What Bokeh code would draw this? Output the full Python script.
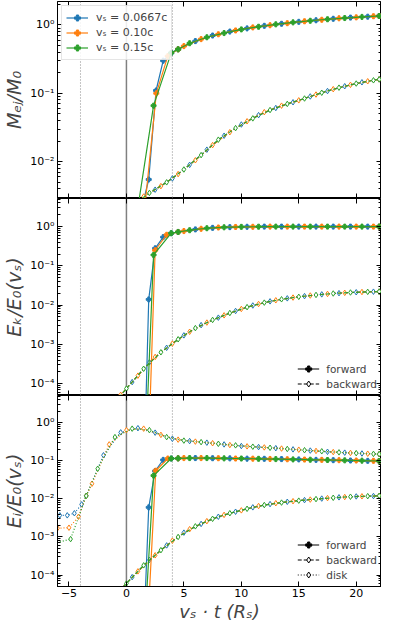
from bokeh.plotting import figure
from bokeh.layouts import column
from bokeh.models import (Range1d, FixedTicker, LogAxis, LinearAxis, Span, Legend,
                          LegendItem, CustomJSTickFormatter)
from bokeh.embed import file_html
from bokeh.resources import INLINE

# ---------------- data ----------------
COLORS = ["#1f77b4", "#ff7f0e", "#2ca02c"]
SERIES_LABELS = ["vₛ = 0.0667c", "vₛ = 0.10c", "vₛ = 0.15c"]
X_TICKS = [-5, 0, 5, 10, 15, 20]
X_LIMITS = (-6, 22.2)

X_TAIL = [4.5, 5.0, 5.5, 6.0, 6.5, 7.0, 7.5, 8.0, 8.5, 9.0, 9.5, 10.0, 10.5, 11.0,
          11.5, 12.0, 12.5, 13.0, 13.5, 14.0, 14.5, 15.0, 15.5, 16.0, 16.5, 17.0,
          17.5, 18.0, 18.5, 19.0, 19.5, 20.0, 20.5, 21.0, 21.5, 22.0]

# M_ej / M_0 forward: early rise per series, then the common tail
M_FWD_HEAD_X = [[1.2, 1.94, 2.58, 3.2, 3.9], [1.4, 2.6, 3.6], [0.8, 2.36, 3.9]]
M_FWD_HEAD_Y = [[0.0017, 0.0055, 0.11, 0.30, 0.39], [0.001, 0.10, 0.35], [0.0013, 0.066, 0.39]]
M_FWD_TAIL = [0.44, 0.49, 0.54, 0.58, 0.62, 0.66, 0.70, 0.73, 0.76, 0.80, 0.83, 0.86,
              0.89, 0.92, 0.94, 0.97, 0.99, 1.02, 1.04, 1.06, 1.09, 1.11, 1.13, 1.15,
              1.17, 1.19, 1.21, 1.23, 1.25, 1.26, 1.28, 1.29, 1.31, 1.32, 1.34, 1.35]
# M_ej / M_0 backward
M_BWD_X = [1.0, 1.5, 2.0, 2.5, 3.0, 3.5, 4.0] + X_TAIL
M_BWD = [0.0026, 0.0031, 0.0035, 0.0039, 0.0044, 0.0050, 0.0057,
         0.0066, 0.0077, 0.0090, 0.0105, 0.0125, 0.0150, 0.0175, 0.021, 0.024, 0.027,
         0.031, 0.035, 0.039, 0.043, 0.048, 0.053, 0.057, 0.061, 0.066, 0.070,
         0.074, 0.079, 0.084, 0.090, 0.096, 0.102, 0.108, 0.115, 0.121, 0.127,
         0.133, 0.139, 0.145, 0.150, 0.155, 0.160]

# E_k / E_0 forward
EK_FWD_HEAD_X = [[1.62, 1.94, 2.5, 3.2, 3.9], [2.0, 2.5, 3.5], [1.75, 2.36, 3.9]]
EK_FWD_HEAD_Y = [[5e-6, 0.014, 0.28, 0.54, 0.68], [1e-5, 0.25, 0.62], [8.7e-6, 0.19, 0.68]]
EK_FWD_TAIL = [0.73, 0.77, 0.81, 0.85, 0.88, 0.91, 0.93, 0.95, 0.96, 0.97, 0.98, 0.985,
               0.99, 0.99, 0.995, 1.0, 1.0, 1.0, 1.0, 1.0, 1.0, 1.0, 1.0, 1.0, 1.0, 1.0,
               1.0, 1.0, 1.0, 1.0, 1.0, 1.0, 1.0, 1.0, 1.0, 1.0]
# backward (E_k and E_i share this x grid)
BWD_X = [-1.0, -0.5, 0.0, 0.5, 1.0, 1.5, 2.0, 2.5, 3.0, 3.5, 4.0] + X_TAIL
EK_BWD = [3.4e-5, 5.2e-5, 7.5e-5, 1.1e-4, 1.6e-4, 2.4e-4, 3.5e-4, 4.8e-4, 6.3e-4, 8.2e-4, 1.05e-3,
          1.35e-3, 1.7e-3, 2.1e-3, 2.6e-3, 3.1e-3, 3.6e-3, 4.2e-3, 4.8e-3, 5.5e-3, 6.3e-3,
          7.1e-3, 8.0e-3, 8.9e-3, 9.8e-3, 0.0107, 0.0116, 0.0125, 0.0133, 0.0141, 0.0149,
          0.0156, 0.0163, 0.0170, 0.0176, 0.0182, 0.0188, 0.0193, 0.0198, 0.0202, 0.0206,
          0.0210, 0.0213, 0.0216, 0.0218, 0.0220, 0.0221]

# E_i / E_0 forward
EI_FWD_HEAD_X = [[1.6, 1.94, 2.5, 3.2, 3.9], [1.95, 2.55, 3.6], [1.7, 2.36, 3.9]]
EI_FWD_HEAD_Y = [[1.6e-5, 0.006, 0.054, 0.106, 0.115], [1.8e-5, 0.055, 0.115], [1.6e-5, 0.041, 0.115]]
EI_FWD_TAIL = [0.116, 0.118, 0.118, 0.118, 0.118, 0.118, 0.117, 0.117, 0.116, 0.116, 0.115,
               0.115, 0.114, 0.114, 0.113, 0.113, 0.112, 0.111, 0.111, 0.110, 0.109, 0.109,
               0.108, 0.107, 0.106, 0.106, 0.105, 0.104, 0.104, 0.103, 0.102, 0.102, 0.101,
               0.100, 0.100, 0.099]
EI_BWD = [2.9e-5, 4.2e-5, 6e-5, 8.8e-5, 1.25e-4, 1.8e-4, 2.5e-4, 3.3e-4, 4.5e-4, 6e-4, 8e-4,
          1.0e-3, 1.3e-3, 1.6e-3, 1.9e-3, 2.2e-3, 2.6e-3, 3.0e-3, 3.4e-3, 3.8e-3, 4.2e-3,
          4.6e-3, 5.0e-3, 5.5e-3, 6.0e-3, 6.5e-3, 6.9e-3, 7.3e-3, 7.7e-3, 8.0e-3, 8.4e-3,
          8.7e-3, 9.0e-3, 9.3e-3, 9.6e-3, 9.9e-3, 0.0102, 0.0105, 0.0107, 0.0110, 0.0112,
          0.0114, 0.0116, 0.0117, 0.0118, 0.0119, 0.0120]
# E_i disk: per-series start, then common curve
DISK_HEAD_X = [[-5.8, -5.15, -4.53, -3.9], [-6.0, -5.0, -4.17], [-6.3, -4.86]]
DISK_HEAD_Y = [[3.7e-3, 3.7e-3, 4.2e-3, 7.2e-3], [1.7e-3, 1.75e-3, 3.4e-3], [6.8e-4, 8.8e-4]]
DISK_X = [-3.5, -3.0, -2.5, -2.0, -1.5, -1.0, -0.5, 0.0, 0.5, 1.0, 1.5, 2.0, 2.5, 3.0,
          3.5, 4.0] + X_TAIL
DISK = [0.012, 0.025, 0.062, 0.14, 0.27, 0.42, 0.56, 0.64, 0.70, 0.72, 0.70, 0.64, 0.55,
        0.48, 0.42, 0.38,
        0.36, 0.34, 0.33, 0.32, 0.31, 0.30, 0.29, 0.28, 0.27, 0.26,
        0.255, 0.245, 0.24, 0.235, 0.23, 0.225, 0.22, 0.215, 0.21, 0.205,
        0.20, 0.196, 0.19, 0.186, 0.182, 0.178, 0.173, 0.170, 0.167, 0.164,
        0.161, 0.159, 0.156, 0.154, 0.152, 0.150]

# ---------------- styling ----------------
FONT = "DejaVu Sans"
W = 381
LW = 1.2
xr = Range1d(*X_LIMITS)

SUP = """
const m = {"-":"\u207b","0":"\u2070","1":"\u00b9","2":"\u00b2","3":"\u00b3","4":"\u2074",
           "5":"\u2075","6":"\u2076","7":"\u2077","8":"\u2078","9":"\u2079"};
const e = Math.round(Math.log10(tick));
return "10" + String(e).split("").map(c => m[c]).join("");
"""
BLANK = CustomJSTickFormatter(code="return '';")


def pick(n, k):
    return sorted(set([0, n - 1] + list(range(k, n, 3))))


def style_axis(ax, labels):
    ax.major_tick_in = 5
    ax.major_tick_out = 0
    ax.minor_tick_in = 3
    ax.minor_tick_out = 0
    ax.major_tick_line_color = "black"
    ax.minor_tick_line_color = "black"
    ax.axis_line_color = "black"
    if labels:
        ax.major_label_text_font = FONT
        ax.major_label_text_font_size = "11px"
        ax.major_label_text_color = "black"
        ax.major_label_standoff = 3
    else:
        ax.formatter = BLANK
        ax.major_label_text_font_size = "1px"
        ax.major_label_standoff = 0


def make_panel(ylo, yhi, major, height, btop, bbot, ylabel, xlabels):
    p = figure(width=W, height=height, x_range=xr, y_range=Range1d(ylo, yhi),
               y_axis_type="log", output_backend="svg", toolbar_location=None,
               min_border_left=47, min_border_right=0, min_border_top=btop,
               min_border_bottom=bbot)
    p.grid.visible = False
    p.outline_line_color = "black"
    p.outline_line_width = 1
    minor = [m * 10.0 ** e for e in range(-6, 1) for m in range(2, 10)]
    yt = FixedTicker(ticks=major, minor_ticks=minor)
    xt = FixedTicker(ticks=X_TICKS, minor_ticks=[])

    ya = p.yaxis[0]
    ya.ticker = yt
    ya.formatter = CustomJSTickFormatter(code=SUP)
    style_axis(ya, True)
    ya.axis_label = ylabel
    ya.axis_label_text_font = FONT
    ya.axis_label_text_font_size = "19px"
    ya.axis_label_text_font_style = "italic"
    ya.axis_label_standoff = 2

    # right / top tick rows pinned to the frame edge (take no border space)
    ra = LogAxis(ticker=yt, fixed_location=X_LIMITS[1])
    style_axis(ra, False)
    p.add_layout(ra, "right")

    xa = p.xaxis[0]
    xa.ticker = xt
    style_axis(xa, xlabels)
    if xlabels:
        xa.axis_label = "vₛ · t (Rₛ)"
        xa.axis_label_text_font = FONT
        xa.axis_label_text_font_size = "18px"
        xa.axis_label_text_font_style = "italic"
        xa.axis_label_standoff = 1
        xa.major_label_standoff = 2
    else:
        xa.fixed_location = ylo

    ta = LinearAxis(ticker=xt, fixed_location=yhi)
    style_axis(ta, False)
    p.add_layout(ta, "above")

    p.add_layout(Span(location=0, dimension="height", line_color="#808080",
                      line_width=1.5, level="underlay"))
    for loc in (-4, 4):
        p.add_layout(Span(location=loc, dimension="height", line_color="#888888",
                          line_width=1, line_dash="1 2", level="underlay"))
    return p


def draw(p, xs, ys, color, kind):
    if kind == "fwd":
        r1 = p.line(xs, ys, line_color=color, line_width=LW)
        r2 = p.scatter(xs, ys, marker="plus", size=5, fill_color=color, line_color=color)
    else:
        dash = "4 2" if kind == "bwd" else "1 2"
        r1 = p.line(xs, ys, line_color=color, line_width=LW, line_dash=dash)
        r2 = p.scatter(xs, ys, marker="diamond", size=5.5, fill_color="white",
                       line_color=color, line_width=1)
    return [r1, r2]


def series(head_x, head_y, tail_x, tail_y, k):
    idx = pick(len(tail_x), k)
    return head_x + [tail_x[i] for i in idx], head_y + [tail_y[i] for i in idx]


def kind_legend(p, kinds):
    items = []
    names = {"fwd": "forward", "bwd": "backward", "disk": "disk"}
    for kd in kinds:
        # legend proxies placed far outside the visible range
        rs = draw(p, [-100.0], [1.0], "black", kd)
        if kd == "fwd":
            rs[1].glyph.size = 7
        else:
            rs[1].glyph.size = 6.5
        items.append(LegendItem(label=names[kd], renderers=rs))
    lg = Legend(items=items, location="bottom_right", border_line_color=None,
                background_fill_alpha=0, label_text_font=FONT, label_text_font_size="10.5px",
                glyph_width=22, glyph_height=15, label_height=15, spacing=0, padding=4,
                margin=4, label_standoff=7)
    p.add_layout(lg)


# ---- panel 1: ejected mass
p1 = make_panel(0.0029, 2.2, [0.01, 0.1, 1.0], 198, 1, 0, "Mₑⱼ/M₀", False)
leg_items = []
for k in range(3):
    x, y = series(M_FWD_HEAD_X[k], M_FWD_HEAD_Y[k], X_TAIL, M_FWD_TAIL, k)
    rs = draw(p1, x, y, COLORS[k], "fwd")
    idx = pick(len(M_BWD_X), k)
    draw(p1, [M_BWD_X[i] for i in idx], [M_BWD[i] for i in idx], COLORS[k], "bwd")
    leg_items.append(LegendItem(label=SERIES_LABELS[k], renderers=rs))
p1.add_layout(Legend(items=leg_items, location="top_left", border_line_color="#cccccc",
                     border_line_width=1, background_fill_alpha=0.85, label_text_font=FONT,
                     label_text_font_size="11px", glyph_width=22, glyph_height=15,
                     label_height=15, spacing=0, padding=4, margin=4, label_standoff=8))

# ---- panel 2: kinetic energy
p2 = make_panel(5e-5, 5.2, [1e-4, 1e-3, 1e-2, 1e-1, 1.0], 197, 0, 0, "Eₖ/E₀(vₛ)", False)
for k in range(3):
    x, y = series(EK_FWD_HEAD_X[k], EK_FWD_HEAD_Y[k], X_TAIL, EK_FWD_TAIL, k)
    draw(p2, x, y, COLORS[k], "fwd")
    idx = pick(len(BWD_X), k)
    draw(p2, [BWD_X[i] for i in idx], [EK_BWD[i] for i in idx], COLORS[k], "bwd")
kind_legend(p2, ["fwd", "bwd"])

# ---- panel 3: internal energy
p3 = make_panel(5e-5, 5.2, [1e-4, 1e-3, 1e-2, 1e-1, 1.0], 229, 0, 33, "Eᵢ/E₀(vₛ)", True)
for k in range(3):
    x, y = series(EI_FWD_HEAD_X[k], EI_FWD_HEAD_Y[k], X_TAIL, EI_FWD_TAIL, k)
    draw(p3, x, y, COLORS[k], "fwd")
    idx = pick(len(BWD_X), k)
    draw(p3, [BWD_X[i] for i in idx], [EI_BWD[i] for i in idx], COLORS[k], "bwd")
    x, y = series(DISK_HEAD_X[k], DISK_HEAD_Y[k], DISK_X, DISK, k)
    draw(p3, x, y, COLORS[k], "disk")
kind_legend(p3, ["fwd", "bwd", "disk"])

layout = column(p1, p2, p3, spacing=0)
open("out.html", "w").write(file_html(layout, INLINE))
